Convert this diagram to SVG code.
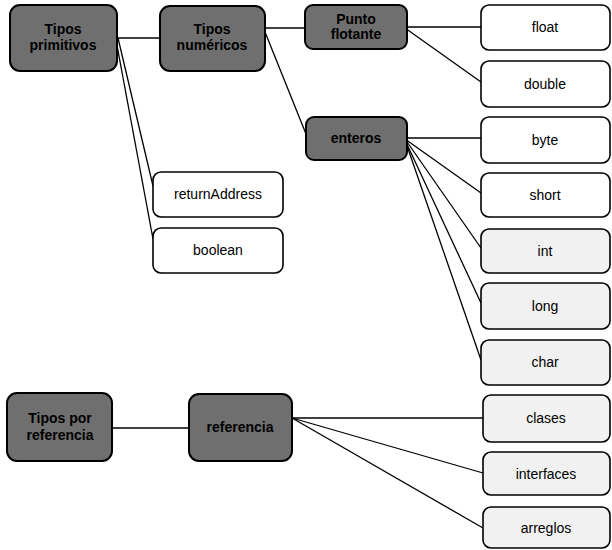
<svg xmlns="http://www.w3.org/2000/svg" width="612" height="550" viewBox="0 0 612 550">
<style>
.dark rect{fill:#6f6f6f;stroke:#000;stroke-width:2}
.light rect{fill:#fff;stroke:#000;stroke-width:1.6}
.tint rect{fill:#f1f1f1;stroke:#000;stroke-width:1.6}
.dark text{font-family:"Liberation Sans",Arial,sans-serif;font-size:14px;font-weight:bold;fill:#000;text-anchor:middle}
.light text,.tint text{font-family:"Liberation Sans",Arial,sans-serif;font-size:14px;fill:#000;text-anchor:middle}
#connectors line{stroke:#000;stroke-width:1.3}
</style>
<rect width="612" height="550" fill="#fff"/>
<g id="connectors">
<line x1="117" y1="38" x2="160" y2="38"/>
<line x1="118" y1="38" x2="153" y2="186"/>
<line x1="116" y1="40" x2="153" y2="239"/>
<line x1="265" y1="28" x2="305" y2="28"/>
<line x1="265" y1="32" x2="306" y2="134"/>
<line x1="407" y1="27" x2="481" y2="27"/>
<line x1="405" y1="28" x2="481" y2="82"/>
<line x1="407" y1="138" x2="481" y2="138"/>
<line x1="405" y1="139" x2="481" y2="193"/>
<line x1="405" y1="139" x2="481" y2="248"/>
<line x1="405" y1="140" x2="481" y2="303"/>
<line x1="405" y1="140" x2="481" y2="360"/>
<line x1="112" y1="428" x2="189" y2="428"/>
<line x1="292" y1="418" x2="483" y2="418"/>
<line x1="292" y1="418" x2="483" y2="473"/>
<line x1="292" y1="418" x2="483" y2="528"/>
</g>
<g id="tipos-primitivos" class="dark"><rect x="10" y="5" width="107" height="66" rx="10"/><text x="63" y="34">Tipos</text><text x="63" y="50">primitivos</text></g>
<g id="tipos-numericos" class="dark"><rect x="160" y="6" width="105" height="65" rx="10"/><text x="212" y="34">Tipos</text><text x="212" y="50">numéricos</text></g>
<g id="punto-flotante" class="dark"><rect x="305" y="5" width="102" height="44" rx="8"/><text x="356" y="24">Punto</text><text x="356" y="39">flotante</text></g>
<g id="enteros" class="dark"><rect x="306" y="117" width="101" height="43" rx="8"/><text x="356" y="143">enteros</text></g>
<g id="float" class="light"><rect x="481" y="5" width="129" height="45" rx="8"/><text x="545" y="32">float</text></g>
<g id="double" class="light"><rect x="481" y="61" width="129" height="46" rx="8"/><text x="545" y="89">double</text></g>
<g id="byte" class="light"><rect x="481" y="117" width="129" height="46" rx="8"/><text x="545" y="145">byte</text></g>
<g id="short" class="light"><rect x="481" y="173" width="129" height="44" rx="8"/><text x="545" y="200">short</text></g>
<g id="int" class="tint"><rect x="481" y="229" width="129" height="44" rx="8"/><text x="545" y="256">int</text></g>
<g id="long" class="tint"><rect x="481" y="283" width="129" height="46" rx="8"/><text x="545" y="311">long</text></g>
<g id="char" class="tint"><rect x="481" y="340" width="129" height="45" rx="8"/><text x="545" y="367">char</text></g>
<g id="returnAddress" class="light"><rect x="153" y="172" width="130" height="45" rx="8"/><text x="218" y="199">returnAddress</text></g>
<g id="boolean" class="light"><rect x="153" y="228" width="130" height="45" rx="8"/><text x="218" y="255">boolean</text></g>
<g id="tipos-por-referencia" class="dark"><rect x="7" y="393" width="105" height="68" rx="10"/><text x="60" y="423">Tipos por</text><text x="60" y="440">referencia</text></g>
<g id="referencia" class="dark"><rect x="189" y="394" width="103" height="67" rx="10"/><text x="240" y="432">referencia</text></g>
<g id="clases" class="tint"><rect x="483" y="395" width="127" height="47" rx="8"/><text x="546" y="423">clases</text></g>
<g id="interfaces" class="tint"><rect x="483" y="452" width="127" height="43" rx="8"/><text x="546" y="479">interfaces</text></g>
<g id="arreglos" class="tint"><rect x="483" y="507" width="127" height="41" rx="8"/><text x="546" y="533">arreglos</text></g>
</svg>
